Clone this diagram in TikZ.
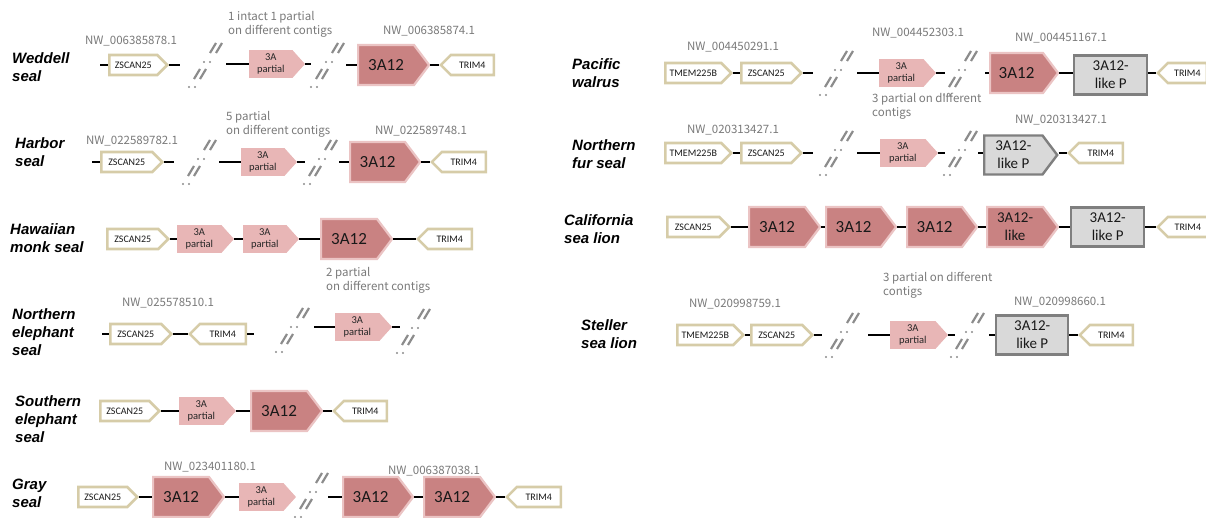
\documentclass[tikz,border=0pt]{standalone}
\usepackage{fontspec}
\setmainfont{Carlito}
\newfontfamily\spfont{Liberation Sans}
\newfontfamily\nwfont{Noto Sans CJK JP}
\usetikzlibrary{shapes.symbols}

\definecolor{beige}{HTML}{D6CCA8}
\definecolor{rose}{HTML}{C98282}
\definecolor{roseedge}{HTML}{EBC4C4}
\definecolor{pinkfill}{HTML}{E8B6B6}
\definecolor{pgray}{HTML}{D9D9D9}
\definecolor{pedge}{HTML}{7F7F7F}
\definecolor{labgray}{HTML}{7A7A7A}
\definecolor{brkgray}{HTML}{8C8C8C}

\tikzset{
  gene/.style={shape=signal, signal from=nowhere, draw=beige, line width=2.6pt,
    fill=white, inner sep=0pt, minimum height=20pt, anchor=west,
    font=\fontsize{10}{11}\selectfont, text=black!90},
  fwd/.style={gene, signal to=east, signal pointer angle=90},
  rev/.style={gene, signal to=west, signal pointer angle=90},
  part/.style={shape=signal, signal to=east, signal from=nowhere,
    signal pointer angle=96, fill=pinkfill, draw=pinkfill, line width=0.8pt,
    minimum width=55pt, minimum height=27pt, inner sep=0pt, align=center,
    anchor=west, font=\fontsize{10.5}{12}\selectfont, text=black!85},
  afull/.style={shape=signal, signal to=east, signal from=nowhere,
    signal pointer angle=106, fill=rose, draw=roseedge, line width=2.2pt,
    minimum width=71pt, minimum height=40pt, inner sep=0pt, anchor=west,
    font=\fontsize{17}{18}\selectfont, text=black!90},
  alike/.style={afull, align=center, font=\fontsize{15}{18}\selectfont},
  pbox/.style={rectangle, fill=pgray, draw=pedge, line width=2.4pt,
    minimum width=72pt, minimum height=39pt, inner sep=0pt, anchor=west,
    align=center, font=\fontsize{15}{18}\selectfont, text=black!90},
  ppent/.style={pbox, shape=signal, signal to=east, signal from=nowhere,
    signal pointer angle=106},
  conn/.style={line width=2.8pt, black},
  sp/.style={font=\spfont\bfseries\itshape\fontsize{15}{18}\selectfont,
    align=left, anchor=north west, inner sep=0pt},
  nw/.style={font=\nwfont\fontsize{11.5}{14}\selectfont, text=labgray, inner sep=0pt},
  note/.style={nw, align=left, anchor=north west},
  brkline/.style={draw=brkgray, line width=2.2pt},
  brk/.pic={
    % two slanted double strokes with dots: a gap between contigs
    \draw[brkline] (5,-12) -- ++(6,-10) (11,-12) -- ++(6,-10);
    \fill[brkgray] (-1,-3) circle (1.2pt) (5,-3) circle (1.2pt);
    \draw[brkline] (-11,14) -- ++(6,-10) (-5,14) -- ++(6,-10);
    \fill[brkgray] (-16,22) circle (1.2pt) (-10,22) circle (1.2pt);
  }
}

\begin{document}
\begin{tikzpicture}[x=1pt, y=-1pt]
\fill[white] (0,0) rectangle (1206,518);
\useasboundingbox (0,0) rectangle (1206,518);

% ---------------- Weddell seal ----------------
\node[sp] (lw) at (12,52) {Weddell\\seal};
\node[nw] (nw1) at (131,41) {NW\_006385878.1};
\node[note] (tw) at (228,11) {1 intact 1 partial\\on different contigs};
\node[nw] (nw2) at (429,31) {NW\_006385874.1};
\coordinate (w0) at (100,65);
\node[fwd, minimum width=58pt] (wz) at (108,65) {ZSCAN25};
\coordinate (w1) at (180,65);
\pic at (205,65) {brk};
\coordinate (w2) at (226,64);
\node[part] (wp) at (249,64) {3A\\partial};
\coordinate (w3) at (311,64);
\pic at (327,65) {brk};
\coordinate (w4) at (346,65);
\node[afull] (wa) at (357,65) {3A12};
\node[rev, minimum width=53pt] (wt) at (439,65) {TRIM4};
\draw[conn] (w0) -- (wz.west) (wz.east) -- (w1) (w2) -- (wp.west)
  (wp.east) -- (w3) (w4) -- (wa.west) (wa.east) -- (wt.west);

% ---------------- Harbor seal ----------------
\node[sp] (lh) at (15,137) {Harbor\\seal};
\node[nw] (nh1) at (132,141) {NW\_022589782.1};
\node[note] (th) at (226,111) {5 partial\\on different contigs};
\node[nw] (nh2) at (421,131) {NW\_022589748.1};
\coordinate (h0) at (92,162);
\node[fwd, minimum width=61pt] (hz) at (100,162) {ZSCAN25};
\coordinate (h1) at (174,162);
\pic at (199,162) {brk};
\coordinate (h2) at (219,162);
\node[part] (hp) at (241,162) {3A\\partial};
\coordinate (h3) at (305,162);
\pic at (320,162) {brk};
\coordinate (h4) at (339,162);
\node[afull, minimum width=70pt] (ha) at (349,162) {3A12};
\node[rev, minimum width=54pt] (ht) at (430,162) {TRIM4};
\draw[conn] (h0) -- (hz.west) (hz.east) -- (h1) (h2) -- (hp.west)
  (hp.east) -- (h3) (h4) -- (ha.west) (ha.east) -- (ht.west);

% ---------------- Hawaiian monk seal ----------------
\node[sp] (lm) at (10,223) {Hawaiian\\monk seal};
\node[fwd, minimum width=61pt] (mz) at (106,239) {ZSCAN25};
\node[part, minimum width=56pt] (mp1) at (177,239) {3A\\partial};
\node[part] (mp2) at (243,239) {3A\\partial};
\node[afull] (ma) at (320,239) {3A12};
\node[rev, minimum width=54pt] (mt) at (416,239) {TRIM4};
\draw[conn] (mz.east) -- (mp1.west) (mp1.east) -- (mp2.west)
  (mp2.east) -- (ma.west) (ma.east) -- (mt.west);
\node[note] (tm) at (326,267) {2 partial\\on different contigs};

% ---------------- Northern elephant seal ----------------
\node[sp] (le) at (12,308) {Northern\\elephant\\seal};
\node[nw] (ne1) at (168,303) {NW\_025578510.1};
\coordinate (e0) at (102,334);
\node[fwd, minimum width=61pt] (ez) at (109,334) {ZSCAN25};
\node[rev, minimum width=56pt] (et) at (188,334) {TRIM4};
\coordinate (e1) at (254,334);
\draw[conn] (e0) -- (ez.west) (ez.east) -- (et.west) (et.east) -- (e1);
\pic at (292,330) {brk};
\coordinate (e2) at (314,327);
\node[part, minimum width=56pt] (ep) at (335,327) {3A\\partial};
\coordinate (e3) at (400,327);
\draw[conn] (e2) -- (ep.west) (ep.east) -- (e3);
\pic at (413,331) {brk};

% ---------------- Southern elephant seal ----------------
\node[sp] (ls) at (15,395) {Southern\\elephant\\seal};
\node[fwd, minimum width=59pt] (sz) at (99,411) {ZSCAN25};
\node[part, minimum width=56pt] (spp) at (179,411) {3A\\partial};
\node[afull] (sa) at (250,411) {3A12};
\node[rev, minimum width=53pt] (st) at (332,411) {TRIM4};
\draw[conn] (sz.east) -- (spp.west) (spp.east) -- (sa.west) (sa.east) -- (st.west);

% ---------------- Gray seal ----------------
\node[sp] (lg) at (12,479) {Gray\\seal};
\node[nw] (ng1) at (210,467) {NW\_023401180.1};
\node[nw] (ng2) at (434,471) {NW\_006387038.1};
\node[fwd, minimum width=59pt] (gz) at (77,497) {ZSCAN25};
\node[afull] (ga1) at (152,497) {3A12};
\node[part, minimum width=56pt] (gp) at (239,497) {3A\\partial};
\pic at (311,495) {brk};
\coordinate (g1) at (328,497);
\node[afull, minimum width=70pt] (ga2) at (342,497) {3A12};
\node[afull] (ga3) at (423,497) {3A12};
\node[rev, minimum width=54pt] (gt) at (505,497) {TRIM4};
\draw[conn] (gz.east) -- (ga1.west) (ga1.east) -- (gp.west) (g1) -- (ga2.west)
  (ga2.east) -- (ga3.west) (ga3.east) -- (gt.west);

% ---------------- Pacific walrus ----------------
\node[sp] (lpw) at (572,58) {Pacific\\walrus};
\node[nw] (np1) at (733,47) {NW\_004450291.1};
\node[nw] (np2) at (918,33) {NW\_004452303.1};
\node[nw] (np3) at (1061,38) {NW\_004451167.1};
\node[fwd, minimum width=66pt] (pm) at (664,73) {TMEM225B};
\node[fwd, minimum width=60pt] (pz) at (740,73) {ZSCAN25};
\coordinate (p1) at (813,73);
\pic at (836,73) {brk};
\coordinate (p2) at (857,73);
\node[part, minimum width=56pt] (pp) at (879,73) {3A\\partial};
\coordinate (p3) at (945,73);
\pic at (960,73) {brk};
\coordinate (p4) at (985,73);
\node[afull, minimum width=68pt] (pa) at (989,73) {3A12};
\node[pbox, minimum width=73pt] (pl) at (1073,75) {3A12-\\like P};
\node[rev, minimum width=49pt] (pt) at (1156,73) {TRIM4};
\draw[conn] (pm.east) -- (pz.west) (pz.east) -- (p1) (p2) -- (pp.west)
  (pp.east) -- (p3) (p4) -- (pa.west) (pa.east) -- (pa.east -| pl.west)
  (pt.west -| pl.east) -- (pt.west);
\node[note] (tp) at (872,93) {3 partial on different\\contigs};

% ---------------- Northern fur seal ----------------
\node[sp] (lf) at (572,139) {Northern\\fur seal};
\node[nw] (nf1) at (733,130) {NW\_020313427.1};
\node[nw] (nf2) at (1061,120) {NW\_020313427.1};
\node[fwd, minimum width=66pt] (fm) at (664,153) {TMEM225B};
\node[fwd, minimum width=60pt] (fz) at (740,153) {ZSCAN25};
\coordinate (f1) at (813,153);
\pic at (836,153) {brk};
\coordinate (f2) at (857,153);
\node[part, minimum width=57pt] (fp) at (880,153) {3A\\partial};
\coordinate (f3) at (945,153);
\pic at (960,153) {brk};
\coordinate (f4) at (978,153);
\node[ppent, minimum width=73pt] (fl) at (983,155) {3A12-\\like P};
\node[rev, minimum width=54pt] (ft) at (1067,153) {TRIM4};
\draw[conn] (fm.east) -- (fz.west) (fz.east) -- (f1) (f2) -- (fp.west)
  (fp.east) -- (f3) (f4) -- (f4 -| fl.west) (ft.west -| fl.east) -- (ft.west);

% ---------------- California sea lion ----------------
\node[sp] (lc) at (564,214) {California\\sea lion};
\node[fwd, minimum width=62pt] (cz) at (666,227) {ZSCAN25};
\node[afull] (ca1) at (748,227) {3A12};
\node[afull, minimum width=70pt] (ca2) at (825,227) {3A12};
\node[afull, minimum width=70pt] (ca3) at (906,227) {3A12};
\node[alike] (ca4) at (986,227) {3A12-\\like};
\node[pbox, minimum width=73pt] (cl) at (1070,227) {3A12-\\like P};
\node[rev, minimum width=50pt] (ct) at (1156,227) {TRIM4};
\draw[conn] (cz.east) -- (ca1.west) (ca1.east) -- (ca2.west) (ca2.east) -- (ca3.west)
  (ca3.east) -- (ca4.west) (ca4.east) -- (cl.west) (cl.east) -- (ct.west);

% ---------------- Steller sea lion ----------------
\node[sp] (lst) at (581,319) {Steller\\sea lion};
\node[note] (tst) at (883,272) {3 partial on different\\contigs};
\node[nw] (ns1) at (735,304) {NW\_020998759.1};
\node[nw] (ns2) at (1060,302) {NW\_020998660.1};
\node[fwd, minimum width=66pt] (stm) at (676,335) {TMEM225B};
\node[fwd, minimum width=61pt] (stz) at (750,335) {ZSCAN25};
\coordinate (s1) at (822,335);
\pic at (842,335) {brk};
\coordinate (s2) at (868,335);
\node[part, minimum width=57pt] (stp) at (890,335) {3A\\partial};
\coordinate (s3) at (955,335);
\pic at (967,335) {brk};
\coordinate (s4) at (989,335);
\node[pbox, minimum width=72pt] (stl) at (995,335) {3A12-\\like P};
\node[rev, minimum width=53pt] (stt) at (1078,335) {TRIM4};
\draw[conn] (stm.east) -- (stz.west) (stz.east) -- (s1) (s2) -- (stp.west)
  (stp.east) -- (s3) (s4) -- (stl.west) (stl.east) -- (stt.west);
\end{tikzpicture}
\end{document}
